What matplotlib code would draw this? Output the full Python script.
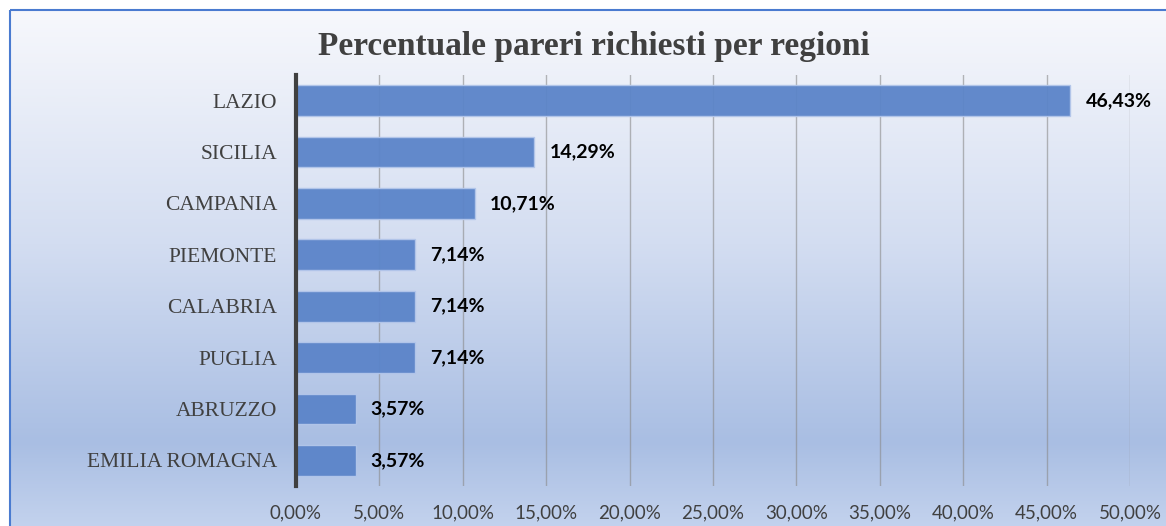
import matplotlib
matplotlib.use("Agg")
import matplotlib.pyplot as plt
import numpy as np
from matplotlib.colors import LinearSegmentedColormap
from matplotlib.patches import Rectangle

categories = ["LAZIO", "SICILIA", "CAMPANIA", "PIEMONTE", "CALABRIA", "PUGLIA", "ABRUZZO", "EMILIA ROMAGNA"]
values = [46.43, 14.29, 10.71, 7.14, 7.14, 7.14, 3.57, 3.57]
value_labels = ["46,43%", "14,29%", "10,71%", "7,14%", "7,14%", "7,14%", "3,57%", "3,57%"]
xticks = [0, 5, 10, 15, 20, 25, 30, 35, 40, 45, 50]
xtick_labels = ["0,00%", "5,00%", "10,00%", "15,00%", "20,00%", "25,00%", "30,00%", "35,00%", "40,00%", "45,00%", "50,00%"]
title = "Percentuale pareri richiesti per regioni"

W, H = 1166, 526
fig = plt.figure(figsize=(W / 100, H / 100), dpi=100)
fig.patch.set_facecolor("white")

# background gradient with frame
bg = fig.add_axes([0, 0, 1, 1], zorder=0)
bg.set_xlim(0, W)
bg.set_ylim(H, 0)
bg.axis("off")
cmap = LinearSegmentedColormap.from_list(
    "bg", [(0.0, "#f7f8fc"), (0.45, "#d3ddf1"), (0.83, "#a9bee3"), (1.0, "#c4d3ee")])
grad = np.linspace(0, 1, 256).reshape(-1, 1)
bg.imshow(grad, cmap=cmap, extent=(10, W + 5, H + 5, 10), aspect="auto", zorder=0)
bg.add_patch(Rectangle((10, 10), W, H, fill=False, edgecolor="#4a7bd0", linewidth=1.5, zorder=1))

ax = fig.add_axes([296 / W, 1 - 486 / H, (1130 - 296) / W, (486 - 75) / H], zorder=2)
ax.patch.set_alpha(0)

y = np.arange(len(categories))
bars = ax.barh(y, values, height=0.6, color="#5b84c9", edgecolor="#b3c6ea", linewidth=1.0, alpha=0.95, zorder=3)
ax.set_ylim(len(categories) - 0.5, -0.5)
ax.set_xlim(0, 50)
ax.set_xticks(xticks)
ax.set_xticklabels(xtick_labels, fontsize=13.5, color="#404040", family="Lato")
ax.set_yticks(y)
ax.set_yticklabels(categories, fontsize=15.5, color="#404040", family="Liberation Serif")
ax.tick_params(axis="both", length=0)
ax.tick_params(axis="x", pad=13)
ax.tick_params(axis="y", pad=13.5)
ax.grid(axis="x", color="#8a8a8a", alpha=0.6, linewidth=1.0, zorder=1)
ax.set_axisbelow(True)
for s in ["top", "right", "bottom"]:
    ax.spines[s].set_visible(False)
ax.spines["left"].set_color("#404040")
ax.spines["left"].set_linewidth(3)
ax.spines["left"].set_zorder(4)

for yi, v, lab in zip(y, values, value_labels):
    ax.annotate(lab, (v, yi), xytext=(15, 0), textcoords="offset pixels",
                va="center", ha="left", fontsize=14, fontweight="bold", color="#000000", family="Lato")

fig.text(594 / W, 1 - 47 / H, title, ha="center", va="center", fontsize=24, fontweight="bold",
         color="#404040", family="Liberation Serif")

fig.savefig("out.png", dpi=100)
